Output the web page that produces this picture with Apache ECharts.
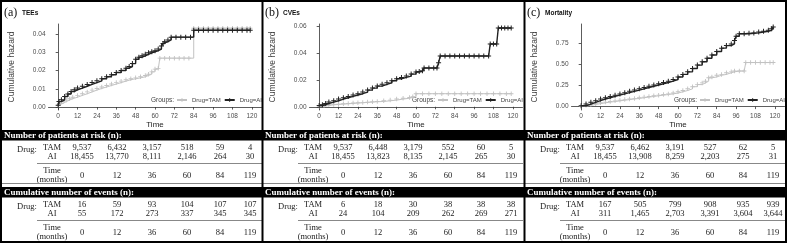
<!DOCTYPE html>
<html><head><meta charset="utf-8">
<script src="https://cdn.jsdelivr.net/npm/echarts@6/dist/echarts.min.js"></script>
<style>html,body{margin:0;padding:0;background:#fff}#c{width:788px;height:245px}</style>
</head><body><div id="c"></div>
<script>
// ---------- data ----------
const panelLetters = ['(a)', '(b)', '(c)'];
const panelTitles = ['TEEs', 'CVEs', 'Mortality'];
const xTicks = [0, 12, 24, 36, 48, 60, 72, 84, 96, 108, 120];
const yTicksA = [0, 0.01, 0.02, 0.03, 0.04];
const yTicksB = [0, 0.02, 0.04, 0.06];
const yTicksC = [0, 0.25, 0.5, 0.75];
const groupNames = ['Drug=TAM', 'Drug=AI'];

const teeAI = [[0,0.001],[0.5,0.003],[2,0.004],[4,0.0058],[6,0.0072],[8,0.0085],[10,0.0095],[12,0.0104],[15,0.0114],[18,0.0124],[21,0.0134],[24,0.0144],[27,0.0155],[30,0.0166],[33,0.0177],[36,0.0189],[39,0.0200],[42,0.0213],[44,0.0222],[46,0.0238],[48,0.0262],[50,0.0273],[52,0.0281],[54,0.0289],[56,0.0297],[58,0.0303],[60,0.0309],[62,0.0318],[64,0.0335],[65,0.0348],[66,0.0358],[68,0.0368],[70,0.0383],[73,0.0383],[76,0.0383],[79,0.0383],[82,0.0383],[84,0.0421],[87,0.0421],[90,0.0421],[93,0.0421],[96,0.0421],[99,0.0421],[102,0.0421],[105,0.0421],[108,0.0421],[111,0.0421],[114,0.0421],[117,0.0421],[119,0.0421]];
const teeTAM = [[0,0.001],[1,0.002],[3,0.003],[5,0.0038],[7,0.0046],[9,0.0054],[12,0.0064],[15,0.0073],[18,0.0083],[21,0.0093],[24,0.0102],[27,0.011],[30,0.0118],[33,0.0126],[36,0.0134],[39,0.0142],[42,0.015],[45,0.0155],[48,0.016],[51,0.0166],[54,0.0173],[56,0.018],[58,0.0193],[60,0.0208],[62,0.0212],[63,0.0268],[66,0.0268],[69,0.0268],[72,0.0268],[75,0.0268],[78,0.0268],[81,0.0268],[84,0.0432],[87,0.0432],[90,0.0432],[93,0.0432],[96,0.0432],[99,0.0432],[102,0.0432],[105,0.0432],[108,0.0432],[111,0.0432],[114,0.0432],[117,0.0432],[119,0.0432]];

const cveAI = [[0,0.001],[2,0.0015],[4,0.0025],[6,0.0035],[9,0.0045],[12,0.0058],[15,0.0068],[18,0.0078],[21,0.0088],[24,0.0098],[27,0.011],[30,0.0125],[33,0.014],[36,0.0155],[39,0.0168],[42,0.018],[45,0.0195],[48,0.021],[51,0.022],[54,0.023],[57,0.0245],[60,0.026],[62,0.0265],[64,0.027],[65,0.029],[68,0.029],[71,0.029],[73,0.029],[74,0.033],[75,0.038],[78,0.038],[81,0.038],[84,0.038],[87,0.038],[90,0.038],[93,0.038],[96,0.038],[99,0.038],[102,0.038],[105,0.038],[106,0.047],[108,0.047],[110,0.047],[111,0.059],[113,0.059],[115,0.059],[117,0.059],[119,0.059]];
const cveTAM = [[0,0.0003],[3,0.001],[6,0.0015],[9,0.0018],[12,0.002],[15,0.0023],[18,0.0025],[21,0.0028],[24,0.003],[27,0.0033],[30,0.0035],[33,0.0038],[36,0.004],[40,0.0045],[44,0.005],[48,0.0058],[52,0.0064],[56,0.007],[58,0.0075],[60,0.0098],[64,0.0098],[68,0.0098],[72,0.0098],[76,0.0098],[80,0.0098],[84,0.0098],[88,0.0098],[92,0.0098],[96,0.0098],[100,0.0098],[104,0.0098],[108,0.0098],[112,0.0098],[116,0.0098],[119,0.0098]];

const morAI = [[0,0.01],[3,0.03],[6,0.05],[9,0.07],[12,0.09],[15,0.105],[18,0.12],[21,0.135],[24,0.15],[27,0.165],[30,0.18],[33,0.195],[36,0.21],[39,0.225],[42,0.24],[45,0.255],[48,0.27],[51,0.285],[54,0.3],[57,0.32],[60,0.35],[63,0.38],[66,0.41],[69,0.45],[72,0.49],[75,0.53],[78,0.57],[81,0.61],[84,0.65],[87,0.69],[90,0.72],[93,0.74],[95,0.78],[96,0.83],[98,0.86],[101,0.86],[104,0.865],[107,0.87],[110,0.88],[113,0.89],[116,0.9],[118,0.92],[119,0.94]];
const morTAM = [[0,0.005],[3,0.015],[6,0.025],[9,0.035],[12,0.045],[15,0.053],[18,0.06],[21,0.068],[24,0.075],[27,0.083],[30,0.09],[33,0.097],[36,0.105],[39,0.112],[42,0.12],[45,0.128],[48,0.135],[51,0.143],[54,0.15],[57,0.16],[60,0.175],[63,0.19],[66,0.21],[69,0.235],[72,0.26],[75,0.28],[77,0.3],[79,0.34],[81,0.35],[84,0.37],[87,0.38],[90,0.4],[93,0.41],[95,0.42],[98,0.42],[101,0.42],[102,0.52],[105,0.52],[108,0.52],[111,0.52],[114,0.52],[117,0.52],[119,0.52]];

const tableTimes = [0, 12, 36, 60, 84, 119];
const teeRiskTAM = [9537, 6432, 3157, 518, 59, 4];
const teeRiskAI = [18455, 13770, 8111, 2146, 264, 30];
const teeEventsTAM = [16, 59, 93, 104, 107, 107];
const teeEventsAI = [55, 172, 273, 337, 345, 345];
const cveRiskTAM = [9537, 6448, 3179, 552, 60, 5];
const cveRiskAI = [18455, 13823, 8135, 2145, 265, 30];
const cveEventsTAM = [6, 18, 30, 38, 38, 38];
const cveEventsAI = [24, 104, 209, 262, 269, 271];
const morRiskTAM = [9537, 6462, 3191, 527, 62, 5];
const morRiskAI = [18455, 13908, 8259, 2203, 275, 31];
const morEventsTAM = [167, 505, 799, 908, 935, 939];
const morEventsAI = [311, 1465, 2703, 3391, 3604, 3644];

// ---------- layout ----------
const PL = [2, 263, 525];
const yRanges = [[-0.0016, 0.0455], [-0.0024, 0.062], [-0.04, 0.975]];
const yTicks = [yTicksA, yTicksB, yTicksC];
const curves = [[teeTAM, teeAI], [cveTAM, cveAI], [morTAM, morAI]];
const tables = [
  [teeRiskTAM, teeRiskAI, teeEventsTAM, teeEventsAI],
  [cveRiskTAM, cveRiskAI, cveEventsTAM, cveEventsAI],
  [morRiskTAM, morRiskAI, morEventsTAM, morEventsAI]
];
const SANS = '"Liberation Sans", Arial, sans-serif';
const SERIF = '"Liberation Serif", "Times New Roman", serif';
const plus = 'path://M2,0L3,0L3,2L5,2L5,3L3,3L3,5L2,5L2,3L0,3L0,2L2,2Z';
const colTAM = '#c2c2c2', colAI = '#222222';

const grids = [], xAxes = [], yAxes = [], series = [], legends = [], graphics = [];
const fmt = v => v.toLocaleString('en-US');

for (let p = 0; p < 3; p++) {
  const L = PL[p];
  grids.push({left: L + 46.5, top: 24, width: 213, height: 86});
  xAxes.push({
    type: 'value', gridIndex: p, min: -6, max: 126,
    name: 'Time', nameLocation: 'middle', nameGap: 11,
    nameTextStyle: {fontFamily: SANS, fontSize: 8, color: '#222'},
    axisLine: {show: true, lineStyle: {color: '#333', width: 0.8}},
    axisTick: {show: true, length: 2.5, lineStyle: {color: '#333', width: 0.8}, customValues: xTicks},
    axisLabel: {customValues: xTicks, fontFamily: SANS, fontSize: 6.5, color: '#4d4d4d', margin: 3},
    splitLine: {show: false}
  });
  yAxes.push({
    type: 'value', gridIndex: p, min: yRanges[p][0], max: yRanges[p][1],
    name: 'Cumulative hazard', nameLocation: 'middle', nameGap: 32,
    nameTextStyle: {fontFamily: SANS, fontSize: 8.5, color: '#444'},
    axisLine: {show: true, lineStyle: {color: '#333', width: 0.8}},
    axisTick: {show: true, length: 2.5, lineStyle: {color: '#333', width: 0.8}, customValues: yTicks[p]},
    axisLabel: {customValues: yTicks[p], fontFamily: SANS, fontSize: 6.5, color: '#4d4d4d', margin: 3,
      formatter: v => Number(v).toFixed(2)},
    splitLine: {show: false}
  });
  [0, 1].forEach(g => {
    const c = g === 0 ? colTAM : colAI;
    series.push({
      type: 'line', name: groupNames[g], xAxisIndex: p, yAxisIndex: p,
      data: curves[p][g], step: 'end', showSymbol: true, symbol: plus, symbolSize: g === 0 ? 4.5 : 5,
      lineStyle: {color: c, width: g === 0 ? 1 : 1.4}, itemStyle: {color: c},
      silent: true, animation: false, z: 2 + g
    });
  });
  legends.push({
    data: groupNames, left: L + 174, top: 97, width: 100, orient: 'horizontal',
    itemWidth: 10, itemHeight: 5, itemGap: 3,
    textStyle: {fontFamily: SANS, fontSize: 6, color: '#444'},
    padding: 0, selectedMode: false
  });
  graphics.push({type: 'text', x: L + 149, y: 100, style: {text: 'Groups:', font: '6.5px ' + SANS, fill: '#444', textVerticalAlign: 'middle'}});

  // panel title
  graphics.push({type: 'text', x: L + 2, y: 13, style: {text: panelLetters[p], font: '12px ' + SERIF, fill: '#111', textVerticalAlign: 'middle'}});
  graphics.push({type: 'text', x: L + 20, y: 13, style: {text: panelTitles[p], font: 'bold 6.5px ' + SANS, fill: '#111', textVerticalAlign: 'middle'}});

  // tables
  const cols = [80, 115, 150, 185, 218, 248];
  const tb = tables[p];
  const blocks = [
    {top: 130, head: 'Number of patients at risk (n):', rows: [tb[0], tb[1]]},
    {top: 187, head: 'Cumulative number of events (n):', rows: [tb[2], tb[3]]}
  ];
  blocks.forEach(b => {
    const t = b.top;
    graphics.push({type: 'rect', shape: {x: L - 1, y: t, width: 262, height: 10.5}, style: {fill: '#000'}, z: 10});
    graphics.push({type: 'text', x: L + 2, y: t + 5.5, style: {text: b.head, font: 'bold 9px ' + SERIF, fill: '#fff', textVerticalAlign: 'middle'}, z: 11});
    graphics.push({type: 'text', x: L + 25, y: t + 20, style: {text: 'Drug:', font: '8.5px ' + SERIF, fill: '#222', textAlign: 'center', textVerticalAlign: 'middle'}});
    ['TAM', 'AI'].forEach((lab, r) => {
      const yy = t + 17.5 + r * 9;
      graphics.push({type: 'text', x: L + 50, y: yy, style: {text: lab, font: '8.5px ' + SERIF, fill: '#222', textAlign: 'center', textVerticalAlign: 'middle'}});
      b.rows[r].forEach((v, i) => {
        graphics.push({type: 'text', x: L + cols[i], y: yy, style: {text: fmt(v), font: '8.5px ' + SERIF, fill: '#222', textAlign: 'center', textVerticalAlign: 'middle'}});
      });
    });
    graphics.push({type: 'line', shape: {x1: L + 35, y1: t + 33.5, x2: L + 260, y2: t + 33.5}, style: {stroke: '#888', lineWidth: 1}});
    graphics.push({type: 'text', x: L + 50, y: t + 41, style: {text: 'Time', font: '8.5px ' + SERIF, fill: '#222', textAlign: 'center', textVerticalAlign: 'middle'}});
    graphics.push({type: 'text', x: L + 50, y: t + 50, style: {text: '(months)', font: '8.5px ' + SERIF, fill: '#222', textAlign: 'center', textVerticalAlign: 'middle'}});
    tableTimes.forEach((v, i) => {
      graphics.push({type: 'text', x: L + cols[i], y: t + 45.5, style: {text: String(v), font: '8.5px ' + SERIF, fill: '#222', textAlign: 'center', textVerticalAlign: 'middle'}});
    });
  });
  graphics.push({type: 'line', shape: {x1: L, y1: 183.5, x2: L + 261, y2: 183.5}, style: {stroke: '#888', lineWidth: 1}});
}
// frame
graphics.push({type: 'rect', shape: {x: 1, y: 1, width: 785, height: 241}, style: {fill: null, stroke: '#000', lineWidth: 2}, z: 20});
graphics.push({type: 'line', shape: {x1: 262.5, y1: 1, x2: 262.5, y2: 242}, style: {stroke: '#000', lineWidth: 2}, z: 20});
graphics.push({type: 'line', shape: {x1: 524.5, y1: 1, x2: 524.5, y2: 242}, style: {stroke: '#000', lineWidth: 2}, z: 20});

const chart = echarts.init(document.getElementById('c'), null, {renderer: 'canvas'});
chart.setOption({
  animation: false,
  backgroundColor: '#fff',
  grid: grids, xAxis: xAxes, yAxis: yAxes, series: series, legend: legends,
  graphic: {elements: graphics}
});
</script></body></html>
